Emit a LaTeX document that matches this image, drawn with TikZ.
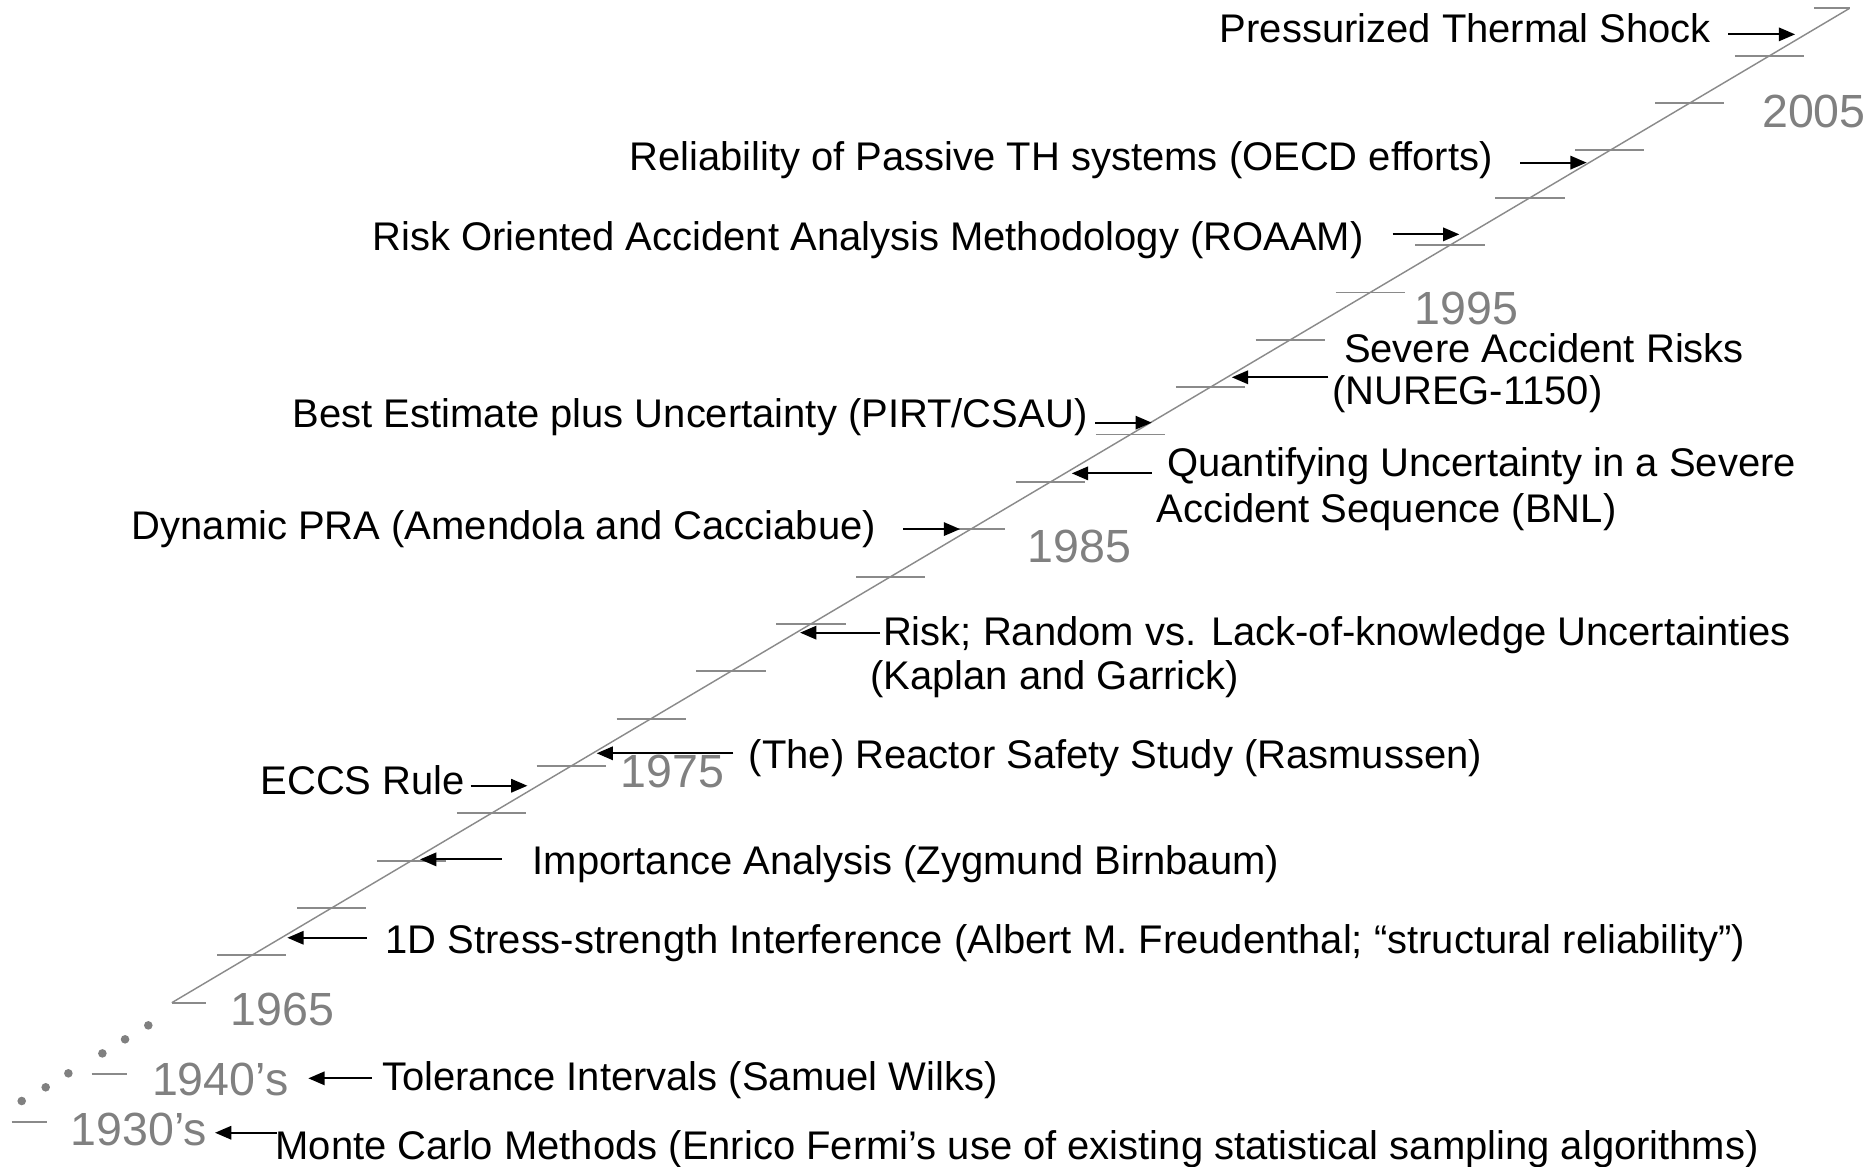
\documentclass[tikz,border=0pt]{standalone}
\usepackage{fontspec}
\setmainfont{Liberation Sans}
\usetikzlibrary{arrows.meta}
\definecolor{axisgray}{HTML}{8A8A8A}
\definecolor{yeargray}{HTML}{808080}
\begin{document}
\begin{tikzpicture}[x=0.5pt,y=-0.5pt,
  lbl/.style={anchor=base west,inner sep=0pt,font=\fontsize{16.75pt}{20pt}\selectfont,text=black},
  yearlbl/.style={anchor=base west,inner sep=0pt,font=\fontsize{19.5pt}{22pt}\selectfont,text=yeargray},
  axisline/.style={draw=axisgray,line width=0.6pt},
  tickline/.style={draw=axisgray,line width=0.8pt},
  conn/.style={draw=black,line width=0.85pt,-{Triangle[length=6.8pt,width=5.6pt]}},
  dotmark/.style={fill=yeargray}
]
\useasboundingbox (0,0) rectangle (1568,978);

% main time axis
\coordinate (bot) at (144,840.3);
\coordinate (top) at (1550,7);
\draw[axisline] (bot) -- (top);
\draw[tickline] (bot) -- ++(29,0);
\draw[tickline] (top) -- ++(-30,0);
\foreach \k in {1,...,20}{
  \draw[tickline] ({144+66.95*\k-29},{840.3-39.68*\k}) -- ++(58,0);
}
% early ticks
\draw[tickline] (76.8,900.4) -- (106.2,900.4);
\draw[tickline] (9.8,940.6) -- (39.1,940.6);
% dots
\foreach \p in {(124.3,859.3),(104.8,871),(85.8,882.8),(57.3,899.5),(38.3,911.2),(18.2,922.7)}{
  \fill[dotmark] \p circle (3.6);
}

% years
\node[yearlbl] (y1930) at (58.7,959.6) {1930’s};
\node[yearlbl] (y1940) at (127,917.7) {1940’s};
\node[yearlbl] (y1965) at (192.8,859) {1965};
\node[yearlbl] (y1975) at (519.6,660) {1975};
\node[yearlbl] (y1985) at (861,471) {1985};
\node[yearlbl] (y1995) at (1185,272) {1995};
\node[yearlbl] (y2005) at (1476.4,107) {2005};

% labels
\node[lbl] (t1) at (1022,36) {Pressurized Thermal Shock};
\node[lbl] (t2) at (527,143) {Reliability of Passive TH systems (OECD efforts)};
\node[lbl] (t3) at (312,210) {Risk Oriented Accident Analysis Methodology (ROAAM)};
\node[lbl] (t4a) at (1126,303.5) {Severe Accident Risks};
\node[lbl] (t4b) at (1116,339) {(NUREG-1150)};
\node[lbl] (t5) at (245,358) {Best Estimate plus Uncertainty (PIRT/CSAU)};
\node[lbl] (t6a) at (977.8,399) {Quantifying Uncertainty in a Severe};
\node[lbl] (t6b) at (968.8,438) {Accident Sequence (BNL)};
\node[lbl] (t7) at (110,452) {Dynamic PRA (Amendola and Cacciabue)};
\node[lbl] (t8a) at (739.7,541) {Risk; Random vs. Lack-of-knowledge Uncertainties};
\node[lbl] (t8b) at (729,577.5) {(Kaplan and Garrick)};
\node[lbl] (t9) at (627.2,644) {(The) Reactor Safety Study (Rasmussen)};
\node[lbl] (t10) at (218,666) {ECCS Rule};
\node[lbl] (t11) at (446,733) {Importance Analysis (Zygmund Birnbaum)};
\node[lbl] (t12) at (322.7,799) {1D Stress-strength Interference (Albert M. Freudenthal; “structural reliability”)};
\node[lbl] (t13) at (320,914) {Tolerance Intervals (Samuel Wilks)};
\node[lbl] (t14) at (230.5,972) {Monte Carlo Methods (Enrico Fermi’s use of existing statistical sampling algorithms)};

% connector end points
\coordinate (a1s) at (1448.5,28.8);  \coordinate (a1e) at (1504.4,28.8);
\coordinate (a2s) at (1274,136.3);   \coordinate (a2e) at (1329.7,136.3);
\coordinate (a3s) at (1167,196.4);   \coordinate (a3e) at (1223,196.4);
\coordinate (a4s) at (1113.2,316.2); \coordinate (a4e) at (1032.3,316.2);
\coordinate (a5s) at (918,354.2);    \coordinate (a5e) at (965.2,354.2);
\coordinate (a6s) at (965.2,396.7);  \coordinate (a6e) at (898.2,396.7);
\coordinate (a7s) at (757,443.4);    \coordinate (a7e) at (804.6,443.4);
\coordinate (a8s) at (737.5,530.2);  \coordinate (a8e) at (670.5,530.2);
\coordinate (a9s) at (614.6,631.3);  \coordinate (a9e) at (500,631.3);
\coordinate (a10s) at (394.5,658.5); \coordinate (a10e) at (442,658.5);
\coordinate (a11s) at (420.4,720.2); \coordinate (a11e) at (352,720.2);
\coordinate (a12s) at (307.3,785.9); \coordinate (a12e) at (240.8,785.9);
\coordinate (a13s) at (311.5,903.7); \coordinate (a13e) at (258.4,903.7);
\coordinate (a14s) at (231.9,949.3); \coordinate (a14e) at (180.2,949.3);

\foreach \i in {1,...,14}{
  \draw[conn] (a\i s) -- (a\i e);
}
\end{tikzpicture}
\end{document}
